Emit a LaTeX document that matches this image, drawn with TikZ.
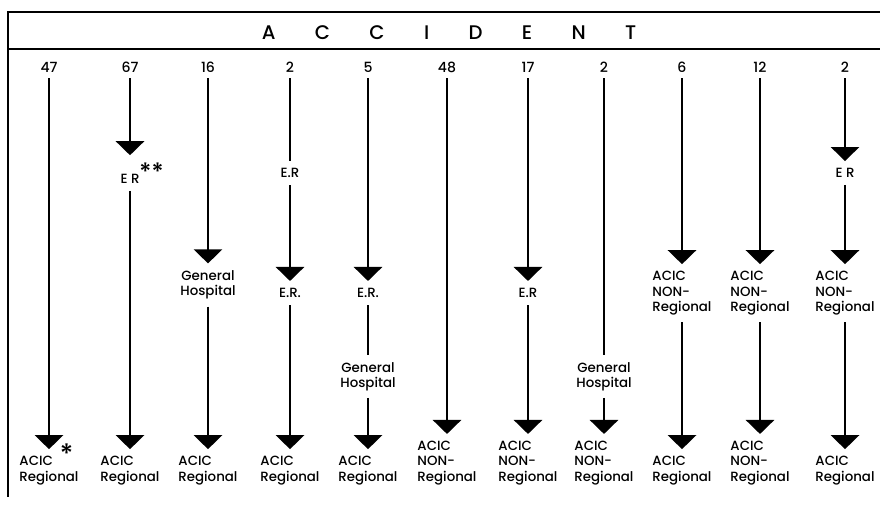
\documentclass[tikz,border=0pt]{standalone}
\usepackage{fontspec}
\setmainfont{Poppins}[UprightFont=* Medium]
\usetikzlibrary{arrows.meta,positioning}

\begin{document}
\begin{tikzpicture}[every node/.style={font=\fontsize{9.5}{10.8}\selectfont},
    num/.style={inner sep=4pt, font=\fontsize{10}{12}\selectfont},
    lbl/.style={inner xsep=1pt, inner ysep=5pt, align=center},
    acic/.style={inner xsep=1pt, inner ysep=5pt, align=left, anchor=south},
    flow/.style={line width=2.1pt, -{Triangle[width=0.7cm,length=0.35cm]}},
    link/.style={line width=2.1pt}]
    \useasboundingbox (0,0) rectangle (22,-12.65);
    % frame and header
    \draw[line width=1.4pt] (22,-0.3) -- (0.2,-0.3) -- (0.2,-12.43);
    \draw[line width=1.4pt] (0.2,-1.225) -- (22,-1.225);
    \node[font=\fontsize{14}{16}\selectfont] (title) at (11.225,-0.825)
          {\spaceskip=2em\relax A C C I D E N T};
    % numbers of cases
    \node[num] (n1) at (1.225,-1.675) {47};
    \node[num] (n2) at (3.25,-1.675) {67};
    \node[num] (n3) at (5.2,-1.675) {16};
    \node[num] (n4) at (7.25,-1.675) {2};
    \node[num] (n5) at (9.2,-1.675) {5};
    \node[num] (n6) at (11.175,-1.675) {48};
    \node[num] (n7) at (13.2,-1.675) {17};
    \node[num] (n8) at (15.1,-1.675) {2};
    \node[num] (n9) at (17.05,-1.675) {6};
    \node[num] (n10) at (19.0,-1.675) {12};
    \node[num] (n11) at (21.125,-1.675) {2};
    % stops on the way
    \node[lbl] (er2) at (3.25,-4.325)
          {E R\rlap{\raisebox{.25em}{\fontsize{17}{17}\selectfont **}}};
    \node[lbl] (gh3) at (5.2,-7.125) {General\\Hospital};
    \node[lbl] (er4a) at (7.25,-4.325) {E.R};
    \node[lbl] (er4b) at (7.25,-7.325) {E.R.};
    \node[lbl] (er5) at (9.2,-7.325) {E.R.};
    \node[lbl] (gh5) at (9.2,-9.41) {General\\Hospital};
    \node[lbl] (er7) at (13.2,-7.325) {E.R};
    \node[lbl] (gh8) at (15.1,-9.41) {General\\Hospital};
    \node[lbl, align=left] (non9) at (17.05,-7.33) {ACIC\\NON-\\Regional};
    \node[lbl, align=left] (non10) at (19.0,-7.33) {ACIC\\NON-\\Regional};
    \node[lbl] (er11) at (21.125,-4.325) {E R};
    \node[lbl, align=left] (non11) at (21.125,-7.33) {ACIC\\NON-\\Regional};
    % final destinations
    \node[acic] (acic1) at (1.225,-12.3)
          {ACIC\rlap{\hspace{5pt}\smash{\raisebox{.2em}{\fontsize{19}{19}\selectfont *}}}\\Regional};
    \node[acic] (acic2) at (3.25,-12.3) {ACIC\\Regional};
    \node[acic] (acic3) at (5.2,-12.3) {ACIC\\Regional};
    \node[acic] (acic4) at (7.25,-12.3) {ACIC\\Regional};
    \node[acic] (acic5) at (9.2,-12.3) {ACIC\\Regional};
    \node[acic] (acic6) at (11.175,-12.3) {ACIC\\NON-\\Regional};
    \node[acic] (acic7) at (13.2,-12.3) {ACIC\\NON-\\Regional};
    \node[acic] (acic8) at (15.1,-12.3) {ACIC\\NON-\\Regional};
    \node[acic] (acic9) at (17.05,-12.3) {ACIC\\Regional};
    \node[acic] (acic10) at (19.0,-12.3) {ACIC\\NON-\\Regional};
    \node[acic] (acic11) at (21.125,-12.3) {ACIC\\Regional};
    % paths
    \draw[flow] (n1.south) -- (acic1.north);
    \draw[flow] (n2.south) -- (er2.north);
    \draw[flow] (er2.south) -- (acic2.north);
    \draw[flow] (n3.south) -- (gh3.north);
    \draw[flow] (gh3.south) -- (acic3.north);
    \draw[link] (n4.south) -- (er4a.north);
    \draw[flow] (er4a.south) -- (er4b.north);
    \draw[flow] (er4b.south) -- (acic4.north);
    \draw[flow] (n5.south) -- (er5.north);
    \draw[link] (er5.south) -- (gh5.north);
    \draw[flow] (gh5.south) -- (acic5.north);
    \draw[flow] (n6.south) -- (acic6.north);
    \draw[flow] (n7.south) -- (er7.north);
    \draw[flow] (er7.south) -- (acic7.north);
    \draw[link] (n8.south) -- (gh8.north);
    \draw[flow] (gh8.south) -- (acic8.north);
    \draw[flow] (n9.south) -- (non9.north);
    \draw[flow] (non9.south) -- (acic9.north);
    \draw[flow] (n10.south) -- (non10.north);
    \draw[flow] (non10.south) -- (acic10.north);
    \draw[flow] (n11.south) -- (er11.north);
    \draw[flow] (er11.south) -- (non11.north);
    \draw[flow] (non11.south) -- (acic11.north);
\end{tikzpicture}
\end{document}
